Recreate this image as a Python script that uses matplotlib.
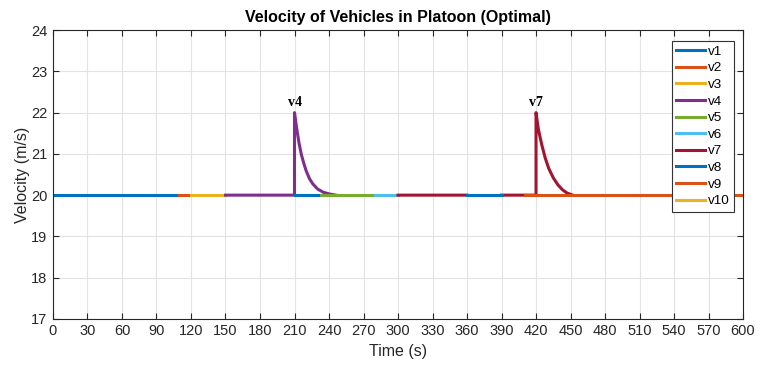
import numpy as np
import matplotlib
matplotlib.use("Agg")
import matplotlib.pyplot as plt

plt.rcParams['font.family'] = ['Liberation Sans', 'DejaVu Sans']

# velocity traces per vehicle (nan breaks a trace into separate pieces)
nan = np.nan
t1 = [0, 110]
v1 = [20, 20]
t2 = [110, 120]
v2 = [20, 20]
t3 = [120, 150]
v3 = [20, 20]
t4 = [150, 210, 210, 212, 214, 216, 218, 220, 223, 226, 230, 235, 240, 246]
v4 = [20, 20, 22.0, 21.6, 21.25, 20.98, 20.78, 20.6, 20.4, 20.27, 20.15, 20.07, 20.03, 20.0]
t5 = [230, 280]
v5 = [20, 20]
t6 = [280, 300]
v6 = [20, 20]
t7 = [300, 360, nan, 390, 420, 420, 422, 425, 428, 431, 435, 439, 443, 447, 452]
v7 = [20, 20, nan, 20, 20, 22.0, 21.6, 21.22, 20.9, 20.65, 20.42, 20.25, 20.13, 20.05, 20.0]
t8 = [210, 230, nan, 360, 390]
v8 = [20, 20, nan, 20, 20]
t9 = [410, 600]
v9 = [20, 20]
t10 = []
v10 = []

times = [t1, t2, t3, t4, t5, t6, t7, t8, t9, t10]
vels = [v1, v2, v3, v4, v5, v6, v7, v8, v9, v10]
names = ['v1', 'v2', 'v3', 'v4', 'v5', 'v6', 'v7', 'v8', 'v9', 'v10']

# matlab default line colours, cycled
colors = ['#0072BD', '#D95319', '#EDB120', '#7E2F8E', '#77AC30',
          '#4DBEEE', '#A2142F', '#0072BD', '#D95319', '#EDB120']

fig = plt.figure(figsize=(7.6, 3.67), dpi=100)
ax = fig.add_axes([0.0697, 0.131, 0.908, 0.787])

for t, v, c, n in zip(times, vels, colors, names):
    ax.plot(t, v, color=c, lw=2.2, label=n)

# mark the two disturbed vehicles at their peaks
ax.text(210, 22.08, 'v4', family='Liberation Serif', fontweight='bold',
        fontsize=10, ha='center', va='bottom')
ax.text(420, 22.08, 'v7', family='Liberation Serif', fontweight='bold',
        fontsize=10, ha='center', va='bottom')

ax.set_xlim(0, 600)
ax.set_ylim(17, 24)
ax.set_xticks(np.arange(0, 601, 30))
ax.set_yticks(np.arange(17, 25, 1))
ax.tick_params(direction='in', top=True, right=True, labelsize=10.5,
               length=4, width=0.8, pad=4, colors='#262626')
ax.grid(True, color='#e3e3e3', lw=0.8)
ax.set_axisbelow(True)
for s in ax.spines.values():
    s.set_linewidth(0.8)
    s.set_color('#262626')

ax.set_title('Velocity of Vehicles in Platoon (Optimal)', fontsize=11.5,
             fontweight='bold', pad=6)
ax.set_xlabel('Time (s)', fontsize=11.5, labelpad=4, color='#262626')
ax.set_ylabel('Velocity (m/s)', fontsize=11.5, labelpad=1, color='#262626')

leg = ax.legend(loc='upper right', bbox_to_anchor=(0.987, 0.962),
                borderaxespad=0, fontsize=9.7, handlelength=2.1,
                handletextpad=0.25, labelspacing=0.31, borderpad=0.32,
                fancybox=False, framealpha=1, edgecolor='#333333')
leg.get_frame().set_linewidth(0.8)

fig.savefig('out.png', dpi=100)
